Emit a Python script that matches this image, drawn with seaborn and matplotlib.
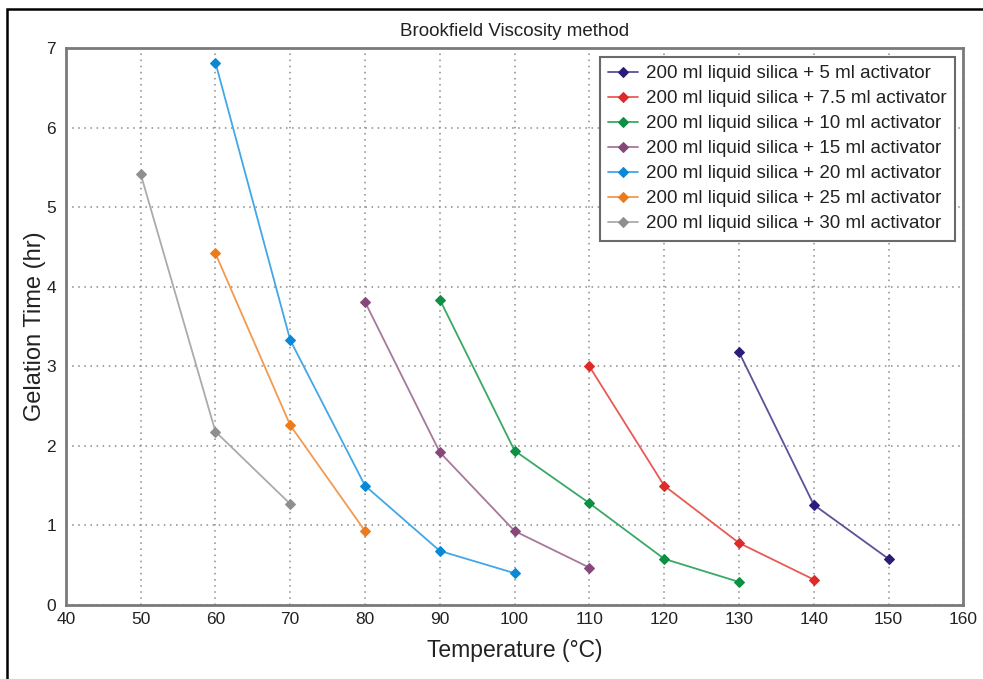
import matplotlib
matplotlib.use("Agg")
import matplotlib.pyplot as plt
import seaborn as sns
import pandas as pd
from matplotlib.patches import Rectangle

sns.set_theme(style="white")
plt.rcParams["font.family"] = ["Liberation Sans", "DejaVu Sans"]

# Gelation time (hr) versus temperature (°C) for each activator dosage
labels = [
    "200 ml liquid silica + 5 ml activator",
    "200 ml liquid silica + 7.5 ml activator",
    "200 ml liquid silica + 10 ml activator",
    "200 ml liquid silica + 15 ml activator",
    "200 ml liquid silica + 20 ml activator",
    "200 ml liquid silica + 25 ml activator",
    "200 ml liquid silica + 30 ml activator",
]
temp_5 = [130, 140, 150]
time_5 = [3.18, 1.26, 0.58]
temp_7_5 = [110, 120, 130, 140]
time_7_5 = [3.00, 1.50, 0.78, 0.32]
temp_10 = [90, 100, 110, 120, 130]
time_10 = [3.84, 1.94, 1.28, 0.58, 0.29]
temp_15 = [80, 90, 100, 110]
time_15 = [3.81, 1.92, 0.93, 0.47]
temp_20 = [60, 70, 80, 90, 100]
time_20 = [6.82, 3.33, 1.50, 0.68, 0.40]
temp_25 = [60, 70, 80]
time_25 = [4.42, 2.26, 0.93]
temp_30 = [50, 60, 70]
time_30 = [5.42, 2.18, 1.27]

temps = [temp_5, temp_7_5, temp_10, temp_15, temp_20, temp_25, temp_30]
times = [time_5, time_7_5, time_10, time_15, time_20, time_25, time_30]

line_colors = ["#5c5199", "#e85a55", "#3aa866", "#a7789b", "#42a7e6", "#f29a50", "#ababab"]
marker_colors = ["#2a1d78", "#e02a2a", "#0d8f44", "#86477a", "#0a88d8", "#ee7a1a", "#8f8f8f"]

x_ticks = list(range(40, 161, 10))
y_ticks = list(range(0, 8))

fig = plt.figure(figsize=(9.83, 6.79), dpi=100)
ax = fig.add_axes([0.067, 0.109, 0.913, 0.820])

for lab, tx, ty, lc, mc in zip(labels, temps, times, line_colors, marker_colors):
    df = pd.DataFrame({"Temperature": tx, "Time": ty})
    sns.lineplot(data=df, x="Temperature", y="Time", ax=ax, color=lc, lw=1.3,
                 marker="D", markersize=5.5, markerfacecolor=mc, markeredgecolor=mc,
                 label=lab)

ax.set_xlim(40, 160)
ax.set_ylim(0, 7)
ax.set_xticks(x_ticks)
ax.set_yticks(y_ticks)
ax.tick_params(axis="both", direction="in", length=4, width=1, color="#808080",
               labelsize=12.5, labelcolor="#222222")
ax.tick_params(axis="x", pad=5)
ax.tick_params(axis="y", pad=7)
ax.grid(True, linestyle=(0, (1, 3)), color="#8a8a8a", lw=1.1)
for s in ax.spines.values():
    s.set_color("#7a7a7a")
    s.set_linewidth(2)

ax.set_xlabel("Temperature (°C)", fontsize=16.5, color="#222222", labelpad=9)
ax.set_ylabel("Gelation Time (hr)", fontsize=17, color="#222222", labelpad=0)
ax.set_title("Brookfield Viscosity method", fontsize=13.5, color="#222222", pad=9)

leg = ax.legend(loc="upper right", fontsize=13.5, frameon=True, fancybox=False,
                framealpha=1, edgecolor="#6a6a6a", borderaxespad=0.45,
                handlelength=1.6, labelspacing=0.42, borderpad=0.45, handletextpad=0.4)
leg.get_frame().set_linewidth(1.5)
for t in leg.get_texts():
    t.set_color("#222222")

# outer frame around the figure
fig.patches.append(Rectangle((0.007, -0.05), 1.2, 0.037 + 1.0, transform=fig.transFigure,
                             fill=False, edgecolor="black", lw=1.8))

fig.savefig("out.png", dpi=100)
